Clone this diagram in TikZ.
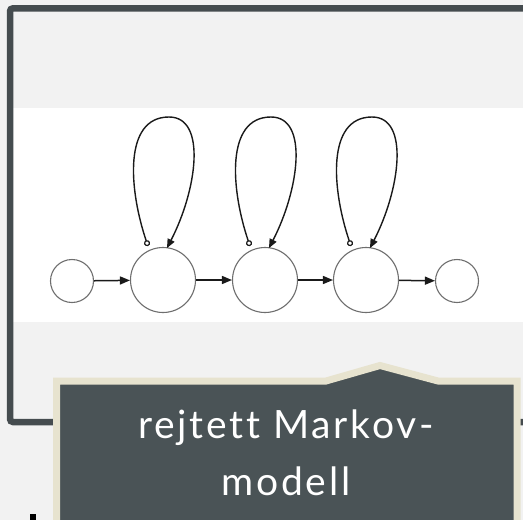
\documentclass[tikz,border=0pt]{standalone}
\usepackage{fontspec}
\setmainfont{Lato}
\newfontfamily\lblfont[LetterSpace=7,Ligatures=NoCommon]{Lato}
\usetikzlibrary{arrows.meta,calc}
\definecolor{bg}{HTML}{F2F2F2}
\definecolor{framecol}{HTML}{454C4F}
\definecolor{boxfill}{HTML}{4A5356}
\definecolor{boxedge}{HTML}{E7E3CF}
\definecolor{ring}{HTML}{6E6E6E}
\definecolor{ink}{HTML}{1A1A1A}
\begin{document}
\begin{tikzpicture}[x=1pt,y=-1pt,
  state/.style={circle,draw=ring,line width=1.1pt,fill=white,inner sep=0pt,minimum size=#1},
  flow/.style={draw=ink,line width=1.5pt,-{Triangle[length=10pt,width=8pt]}},
  selfloop/.style={draw=ink,line width=1.4pt,{Circle[open,length=6pt,width=6pt,line width=1.2pt]}-{Triangle[length=9pt,width=7.5pt]}}]
\useasboundingbox (0,0) rectangle (523,520);
\fill[bg] (0,0) rectangle (523,520);
\fill[white] (13,108) rectangle (523,322);
\draw[framecol,line width=6.5pt,rounded corners=3pt] (530,8.3) -- (10,8.3) -- (10,422) -- (530,422);
% states
\node[state=43pt] (n1) at (72,281) {};
\node[state=65pt] (n2) at (163,280) {};
\node[state=65pt] (n3) at (265,280) {};
\node[state=65pt] (n4) at (366,280) {};
\node[state=43pt] (n5) at (457,281) {};
\draw[flow] (n1) -- (n2);
\draw[flow] (n2) -- (n3);
\draw[flow] (n3) -- (n4);
\draw[flow] (n4) -- (n5);
\foreach \n in {n2,n3,n4}{
  \draw[selfloop] ($(\n)+(-15,-34)$) .. controls ($(\n)+(-34,-90)$) and ($(\n)+(-40,-163)$) .. ($(\n)+(6,-163)$)
     .. controls ($(\n)+(44,-163)$) and ($(\n)+(34,-90)$) .. ($(\n)+(4,-32)$);
}
% callout
\draw[boxedge,fill=boxfill,line width=7pt,line join=miter]
  (56.5,540) -- (56.5,381) -- (326,381) -- (380,365.5) -- (438,381) -- (517,381) -- (517,540);
\node[text=white,font=\lblfont\fontsize{39}{57}\selectfont,align=center,anchor=base,inner sep=0pt] (lbl) at (286,495) {rejtett Markov-\\modell};
\fill[black] (30,514) rectangle (36,520);
\end{tikzpicture}
\end{document}
